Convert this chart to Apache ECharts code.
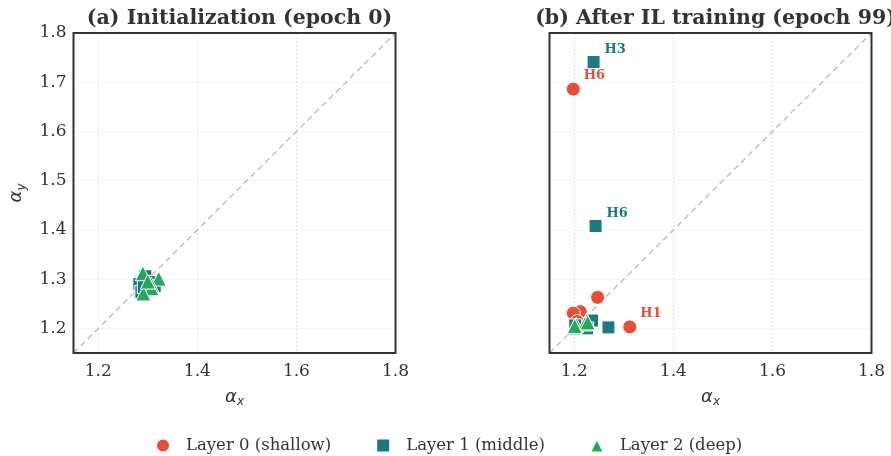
<!DOCTYPE html>
<html lang="en">
<head>
    <meta charset="utf-8">
    <title>alpha scatter</title>
    <script src="https://cdn.jsdelivr.net/npm/echarts@6/dist/echarts.min.js"></script>
    <style>
        body { margin: 0; background: #fff; }
    </style>
</head>
<body>
<div id="main" style="width:891px;height:456px;"></div>

<script type="text/javascript">

    // panel titles and legend names
    var titles = ['(a) Initialization (epoch 0)', '(b) After IL training (epoch 99)'];
    var layerNames = ['Layer 0 (shallow)', 'Layer 1 (middle)', 'Layer 2 (deep)'];
    var heads = ['H1', 'H2', 'H3', 'H4', 'H5', 'H6'];

    // axis extent and tick labels
    var axisRange = [1.15, 1.8];
    var xTicks = [1.2, 1.4, 1.6, 1.8];
    var yTicks = [1.2, 1.3, 1.4, 1.5, 1.6, 1.7, 1.8];

    // epoch 0: [alpha_x, alpha_y] per head
    var init0 = [[1.285, 1.290], [1.290, 1.280], [1.300, 1.300], [1.295, 1.295], [1.288, 1.276], [1.305, 1.298]];
    var init1 = [[1.283, 1.290], [1.287, 1.274], [1.295, 1.306], [1.303, 1.294], [1.292, 1.284], [1.314, 1.286]];
    var init2 = [[1.290, 1.312], [1.322, 1.301], [1.307, 1.289], [1.307, 1.282], [1.291, 1.271], [1.300, 1.295]];

    // epoch 99
    var trained0 = [[1.312, 1.203], [1.247, 1.263], [1.212, 1.234], [1.198, 1.231], [1.206, 1.214], [1.198, 1.686]];
    var trained1 = [[1.269, 1.202], [1.236, 1.216], [1.239, 1.741], [1.226, 1.200], [1.202, 1.206], [1.243, 1.408]];
    var trained2 = [[1.200, 1.202], [1.225, 1.215], [1.204, 1.207], [1.222, 1.210], [1.201, 1.205], [1.227, 1.212]];

    // annotated heads in panel (b): [layer, head index]
    var annotated = [[0, 5], [0, 0], [1, 2], [1, 5]];

    var colors = ['#e84c3a', '#1b7a80', '#23a85c'];
    var symbols = ['circle', 'rect', 'triangle'];
    var symbolSizes = [14, 13, 15];
    var serif = 'DejaVu Serif';

    var panels = [[init0, init1, init2], [trained0, trained1, trained2]];

    var myChart = echarts.init(document.getElementById('main'));

    var nameRich = {
        a: { fontFamily: 'DejaVu Sans', fontStyle: 'italic', fontSize: 18, color: '#333' },
        s: { fontFamily: 'DejaVu Sans', fontStyle: 'italic', fontSize: 12, color: '#333', padding: [10, 0, 0, 0] }
    };

    var grids = [], xAxes = [], yAxes = [], series = [], titleOpts = [];
    var lefts = [73.5, 549.5];

    for (var p = 0; p < 2; p++) {
        // frame drawn above the dotted grid lines
        grids.push({
            left: lefts[p], top: 33, width: 322, height: 320, z: 10,
            show: true, borderColor: '#333', borderWidth: 2, backgroundColor: 'transparent'
        });
        titleOpts.push({
            text: titles[p],
            left: lefts[p] + 161, top: 3, textAlign: 'center',
            textStyle: { fontFamily: serif, fontWeight: 'bold', fontSize: 20.5, color: '#333' }
        });
        xAxes.push({
            type: 'value', gridIndex: p, min: axisRange[0], max: axisRange[1],
            name: '{a|α}{s|x}', nameLocation: 'middle', nameGap: 33,
            nameTextStyle: { rich: nameRich },
            axisLine: { show: false },
            axisTick: { show: false, customValues: xTicks },
            axisLabel: { customValues: xTicks, fontFamily: serif, fontSize: 17, color: '#333', margin: 10,
                formatter: function (v) { return v.toFixed(1); } },
            splitLine: { show: true, lineStyle: { color: '#e3e3e3', type: [2, 2], width: 1 } }
        });
        yAxes.push({
            type: 'value', gridIndex: p, min: axisRange[0], max: axisRange[1],
            name: p === 0 ? '{a|α}{s|y}' : '', nameLocation: 'middle', nameGap: 46, nameRotate: 90,
            nameTextStyle: { rich: nameRich },
            axisLine: { show: false },
            axisTick: { show: false, customValues: yTicks },
            axisLabel: { show: p === 0, customValues: yTicks, fontFamily: serif, fontSize: 17, color: '#333', margin: 7,
                formatter: function (v) { return v.toFixed(1); } },
            splitLine: { show: true, lineStyle: { color: '#ececec', type: [2, 2], width: 1 } }
        });

        // identity line
        series.push({
            type: 'line', xAxisIndex: p, yAxisIndex: p, silent: true, symbol: 'none',
            data: [[axisRange[0], axisRange[0]], [axisRange[1], axisRange[1]]],
            lineStyle: { color: '#bdbdbd', type: [6, 4], width: 1.4 },
            z: 1
        });

        for (var l = 0; l < 3; l++) {
            var pts = panels[p][l].map(function (xy, h) {
                var item = { value: xy, name: heads[h] };
                if (p === 1) {
                    annotated.forEach(function (a) {
                        if (a[0] === l && a[1] === h) {
                            item.label = {
                                show: true, formatter: heads[h], position: [18, -12],
                                color: colors[l], fontFamily: serif, fontWeight: 'bold', fontSize: 13
                            };
                        }
                    });
                }
                return item;
            });
            series.push({
                name: layerNames[l], type: 'scatter', xAxisIndex: p, yAxisIndex: p,
                symbol: symbols[l], symbolSize: symbolSizes[l],
                itemStyle: { color: colors[l], borderColor: '#fff', borderWidth: 1, opacity: 1 },
                data: pts,
                z: 2 + l
            });
        }
    }

    myChart.setOption({
        animation: false,
        backgroundColor: '#fff',
        title: titleOpts,
        legend: {
            data: layerNames, left: 150, top: 432,
            itemWidth: 14, itemHeight: 14, itemGap: 44,
            textStyle: { fontFamily: serif, fontSize: 16.5, color: '#333', padding: [0, 0, 0, 11] }
        },
        grid: grids,
        xAxis: xAxes,
        yAxis: yAxes,
        series: series
    });

</script>
</body>
</html>
